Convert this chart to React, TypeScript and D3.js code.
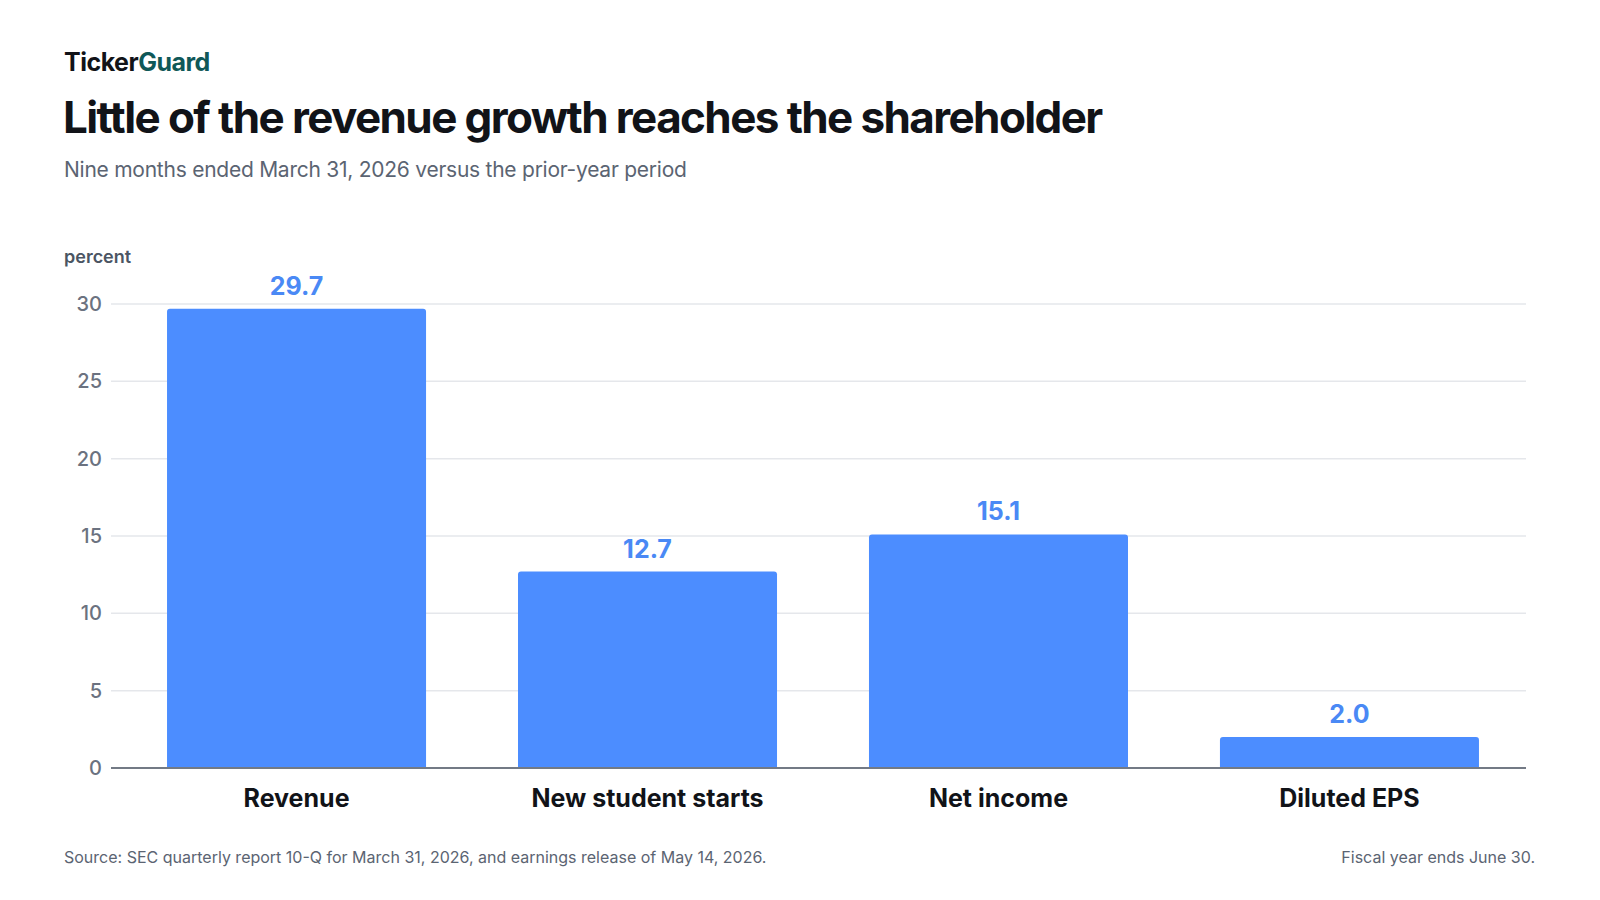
import { useEffect, useRef } from "react"
import * as d3 from "d3"

const categories = ["Revenue", "New student starts", "Net income", "Diluted EPS"]
const growth = [29.7, 12.7, 15.1, 2.0]
const yTicks = [0, 5, 10, 15, 20, 25, 30]

const W = 1600
const H = 900
const FONT = "Inter, 'Noto Sans', sans-serif"

export default function App() {
  const svgRef = useRef<SVGSVGElement>(null)

  useEffect(() => {
    if (!svgRef.current) return
    const svg = d3.select(svgRef.current)
    svg.selectAll("*").remove()

    svg.append("rect").attr("width", W).attr("height", H).attr("fill", "#ffffff")

    // header
    const brand = svg
      .append("text")
      .attr("x", 64)
      .attr("y", 71)
      .attr("font-family", FONT)
      .attr("font-size", 25)
      .attr("font-weight", 700)
      .attr("letter-spacing", "-0.5px")
    brand.append("tspan").attr("fill", "#111318").text("Ticker")
    brand.append("tspan").attr("fill", "#0f5858").text("Guard")

    svg
      .append("text")
      .attr("x", 63)
      .attr("y", 133)
      .attr("font-family", FONT)
      .attr("font-size", 44)
      .attr("font-weight", 700)
      .attr("letter-spacing", "-1.6px")
      .attr("fill", "#111318")
      .text("Little of the revenue growth reaches the shareholder")

    svg
      .append("text")
      .attr("x", 64)
      .attr("y", 177)
      .attr("font-family", FONT)
      .attr("font-size", 21)
      .attr("letter-spacing", "-0.25px")
      .attr("fill", "#5b6472")
      .text("Nine months ended March 31, 2026 versus the prior-year period")

    // scales
    const x = d3
      .scaleBand<string>()
      .domain(categories)
      .range([120, 1526])
      .paddingInner(0.262)
      .paddingOuter(0.134)

    const y = d3.scaleLinear().domain([0, 30]).range([768, 304])

    svg
      .append("text")
      .attr("x", 64)
      .attr("y", 263)
      .attr("font-family", FONT)
      .attr("font-size", 18)
      .attr("font-weight", 600)
      .attr("fill", "#4b5563")
      .text("percent")

    // gridlines
    svg
      .append("g")
      .selectAll("line")
      .data(yTicks.filter((t) => t > 0))
      .enter()
      .append("line")
      .attr("x1", 111)
      .attr("x2", 1526)
      .attr("y1", (d) => y(d))
      .attr("y2", (d) => y(d))
      .attr("stroke", "#e5e7eb")
      .attr("stroke-width", 1.5)

    // y tick labels
    svg
      .append("g")
      .selectAll("text")
      .data(yTicks)
      .enter()
      .append("text")
      .attr("x", 102)
      .attr("y", (d) => y(d))
      .attr("dy", "0.35em")
      .attr("text-anchor", "end")
      .attr("font-family", FONT)
      .attr("font-size", 20)
      .attr("font-weight", 500)
      .attr("fill", "#6b7280")
      .text((d) => d)

    // bars with rounded tops
    const r = 3
    const bw = x.bandwidth()
    svg
      .append("g")
      .selectAll("path")
      .data(categories)
      .enter()
      .append("path")
      .attr("d", (d, i) => {
        const x0 = x(d) || 0
        const x1 = x0 + bw
        const top = y(growth[i])
        const base = y(0)
        return `M${x0},${base}V${top + r}Q${x0},${top} ${x0 + r},${top}H${x1 - r}Q${x1},${top} ${x1},${top + r}V${base}Z`
      })
      .attr("fill", "#4c8dff")

    // value labels
    svg
      .append("g")
      .selectAll("text")
      .data(categories)
      .enter()
      .append("text")
      .attr("x", (d) => (x(d) || 0) + bw / 2)
      .attr("y", (d, i) => y(growth[i]) - 14)
      .attr("text-anchor", "middle")
      .attr("font-family", FONT)
      .attr("font-size", 25)
      .attr("font-weight", 700)
      .attr("fill", "#4a89f5")
      .text((d, i) => growth[i].toFixed(1))

    // baseline
    svg
      .append("line")
      .attr("x1", 111)
      .attr("x2", 1526)
      .attr("y1", y(0))
      .attr("y2", y(0))
      .attr("stroke", "#737a85")
      .attr("stroke-width", 2)

    // category labels
    svg
      .append("g")
      .selectAll("text")
      .data(categories)
      .enter()
      .append("text")
      .attr("x", (d) => (x(d) || 0) + bw / 2)
      .attr("y", 807)
      .attr("text-anchor", "middle")
      .attr("font-family", FONT)
      .attr("font-size", 25)
      .attr("font-weight", 700)
      .attr("fill", "#111318")
      .text((d) => d)

    // footer
    svg
      .append("text")
      .attr("x", 64)
      .attr("y", 863)
      .attr("font-family", FONT)
      .attr("font-size", 16)
      .attr("fill", "#5b6472")
      .text("Source: SEC quarterly report 10-Q for March 31, 2026, and earnings release of May 14, 2026.")

    svg
      .append("text")
      .attr("x", 1535)
      .attr("y", 863)
      .attr("text-anchor", "end")
      .attr("font-family", FONT)
      .attr("font-size", 16)
      .attr("fill", "#5b6472")
      .text("Fiscal year ends June 30.")
  }, [])

  return (
    <div style={{ margin: -8 }}>
      <svg ref={svgRef} width={W} height={H} style={{ display: "block" }} />
    </div>
  )
}
